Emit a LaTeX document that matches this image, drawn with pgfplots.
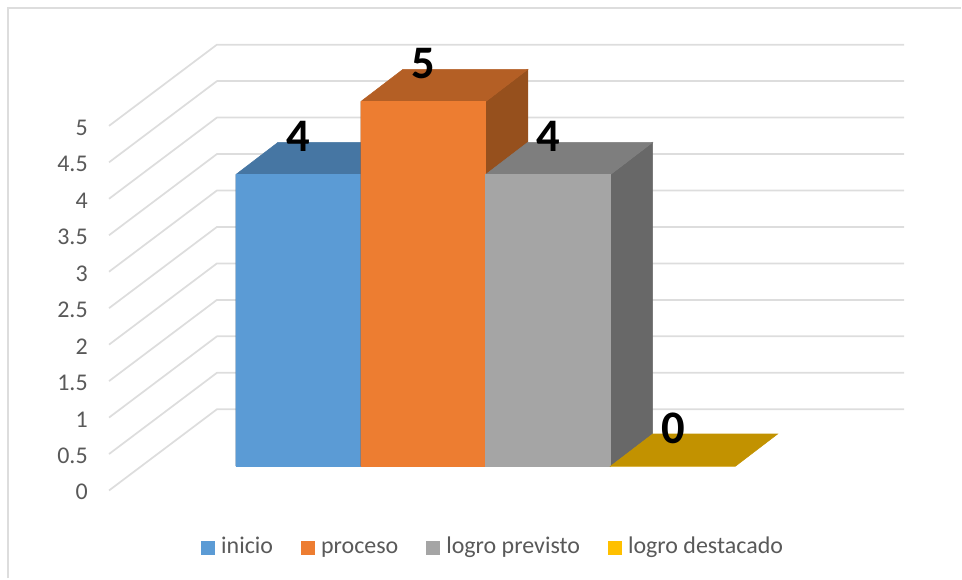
\documentclass[border=0pt]{standalone}
\usepackage{pgfplots}
\pgfplotsset{compat=1.18}
\usepackage{fontspec}
\setmainfont{Carlito}
\definecolor{gridc}{HTML}{DDDDDD}
\definecolor{txt}{HTML}{595959}
\definecolor{cA}{HTML}{5B9BD5}\definecolor{cAt}{HTML}{4676A3}\definecolor{cAs}{HTML}{3E6A93}
\definecolor{cB}{HTML}{ED7D31}\definecolor{cBt}{HTML}{B45F25}\definecolor{cBs}{HTML}{96501D}
\definecolor{cC}{HTML}{A5A5A5}\definecolor{cCt}{HTML}{7E7E7E}\definecolor{cCs}{HTML}{686868}
\definecolor{cD}{HTML}{FFC000}\definecolor{cDt}{HTML}{C29200}
\begin{document}
\begin{tikzpicture}
% axis A: x in picture columns, y in axis values (tick labels, walls, grid)
\begin{axis}[
  scale only axis, width=721.5pt, height=434.25pt,
  xmin=0, xmax=962, ymin=-1.2055, ymax=6.726,
  axis line style={draw=none}, major tick length=0pt,
  xtick=\empty, ytick={0,0.5,1,1.5,2,2.5,3,3.5,4,4.5,5},
  yticklabel style={anchor=east, xshift=69.25pt, yshift=-1.3pt, font=\fontsize{18}{21}\selectfont, text=txt,
    /pgf/number format/assume math mode=true},
  clip=false,
]
\pgfplotsinvokeforeach{0,0.5,1,1.5,2,2.5,3,3.5,4,4.5,5}{
  \addplot[gridc, line width=1.3pt, line join=round, forget plot] coordinates {(109,#1) (217,#1+1.1137) (905,#1+1.1137)};
}
\addplot[gridc, line width=1.3pt, forget plot] coordinates {(8,-1.2055) (8,6.616) (962,6.616)};
\end{axis}
% axis B: x = category index, y = value above the bar base
\begin{axis}[
  scale only axis, width=721.5pt, height=434.25pt,
  xmin=-2.388, xmax=5.308, ymin=-1.538, ymax=6.393,
  hide axis, clip=false,
  bar width=1, ybar, bar shift=0pt,
  nodes near coords,
  nodes near coords align={anchor=center},
  every node near coord/.append style={font=\fontsize{35}{40}\selectfont\bfseries, text=black, yshift=28.5pt,
    /pgf/number format/assume math mode=true},
  legend columns=4,
  legend style={at={(axis cs:1.56,-1.125)}, anchor=center, draw=none, fill=none,
    font=\fontsize{18}{21}\selectfont, text=txt,
    nodes={text height=12pt, text depth=4pt, inner ysep=0pt},
    /tikz/every even column/.append style={column sep=18.5pt}},
  legend image code/.code={\fill[#1, draw=none] (0.5pt,-5.25pt) rectangle (11pt,5.25pt); \path[draw=none, fill=none] (0pt,0pt) -- (13.5pt,0pt);},
]
% inicio
\addplot[area legend, sharp plot, fill=cAs, draw=cAs, line width=0.4pt, forget plot, nodes near coords=\empty] coordinates {(0.5,4) (0.838,4.442) (0.838,0.442) (0.5,0) (0.5,4)} \closedcycle;
\addplot[area legend, sharp plot, fill=cAt, draw=cAt, line width=0.4pt, forget plot, nodes near coords=\empty] coordinates {(-0.5,4) (-0.162,4.442) (0.838,4.442) (0.5,4) (-0.5,4)} \closedcycle;
\addplot[fill=cA, draw=cA, line width=0.4pt] coordinates {(0,4)};
\addlegendentry{inicio}
% proceso
\addplot[area legend, sharp plot, fill=cBs, draw=cBs, line width=0.4pt, forget plot, nodes near coords=\empty] coordinates {(1.5,5) (1.838,5.442) (1.838,0.442) (1.5,0) (1.5,5)} \closedcycle;
\addplot[area legend, sharp plot, fill=cBt, draw=cBt, line width=0.4pt, forget plot, nodes near coords=\empty] coordinates {(0.5,5) (0.838,5.442) (1.838,5.442) (1.5,5) (0.5,5)} \closedcycle;
\addplot[fill=cB, draw=cB, line width=0.4pt] coordinates {(1,5)};
\addlegendentry{proceso}
% logro previsto
\addplot[area legend, sharp plot, fill=cCs, draw=cCs, line width=0.4pt, forget plot, nodes near coords=\empty] coordinates {(2.5,4) (2.838,4.442) (2.838,0.442) (2.5,0) (2.5,4)} \closedcycle;
\addplot[area legend, sharp plot, fill=cCt, draw=cCt, line width=0.4pt, forget plot, nodes near coords=\empty] coordinates {(1.5,4) (1.838,4.442) (2.838,4.442) (2.5,4) (1.5,4)} \closedcycle;
\addplot[fill=cC, draw=cC, line width=0.4pt] coordinates {(2,4)};
\addlegendentry{logro previsto}
% logro destacado
\addplot[area legend, sharp plot, fill=cDt, draw=cDt, line width=0.4pt, forget plot, nodes near coords=\empty] coordinates {(2.5,0) (2.838,0.442) (3.838,0.442) (3.5,0) (2.5,0)} \closedcycle;
\addplot[fill=cD, draw=none] coordinates {(3,0)};
\addlegendentry{logro destacado}
\end{axis}
\end{tikzpicture}
\end{document}
